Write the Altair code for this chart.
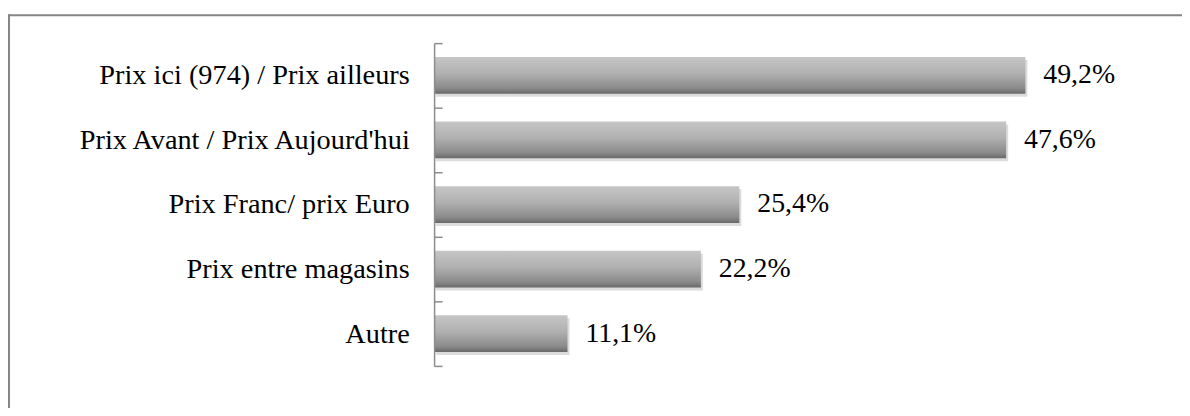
import altair as alt
import pandas as pd

categories = [
    "Prix ici (974) / Prix ailleurs\u00a0",
    "Prix Avant / Prix Aujourd'hui",
    "Prix Franc/ prix Euro",
    "Prix entre magasins",
    "Autre",
]
values = [49.2, 47.6, 25.4, 22.2, 11.1]
value_labels = ["49,2%", "47,6%", "25,4%", "22,2%", "11,1%"]

df = pd.DataFrame({"cat": categories, "val": values, "lab": value_labels})

W, H = 605, 325
PL = 429
FONT = "Liberation Serif"

xs = alt.Scale(domain=[0, 50])
ys = alt.Scale(domain=categories, paddingInner=0, paddingOuter=0)

base = alt.Chart(df)

# outer frame (only top and left visible in window)
frame_df = pd.DataFrame({"k": [0]})
frame_top = alt.Chart(frame_df).mark_rule(color="#858585", strokeWidth=2).encode(
    x=alt.value(-PL), x2=alt.value(900), y=alt.value(-28)
)
frame_left = alt.Chart(frame_df).mark_rule(color="#858585", strokeWidth=2).encode(
    x=alt.value(-PL + 1), y=alt.value(-29), y2=alt.value(420)
)

shadow = base.mark_bar(size=37, color="#808080", opacity=0.28, xOffset=2, yOffset=3).encode(
    x=alt.X("val:Q", scale=xs, axis=None),
    y=alt.Y(
        "cat:N",
        scale=ys,
        title=None,
        axis=alt.Axis(
            orient="right",
            offset=-W,
            labels=False,
            domain=True,
            domainColor="#8c8c8c",
            domainWidth=1.5,
            ticks=True,
            tickSize=8,
            tickColor="#8c8c8c",
            tickWidth=1.5,
            tickBand="extent",
            grid=False,
            zindex=1,
        ),
    ),
)

grad = alt.Gradient(
    gradient="linear",
    x1=0, y1=0, x2=0, y2=1,
    stops=[
        alt.GradientStop(offset=0, color="#c6c6c6"),
        alt.GradientStop(offset=0.45, color="#b0b0b0"),
        alt.GradientStop(offset=0.85, color="#8a8a8a"),
        alt.GradientStop(offset=1, color="#686868"),
    ],
)

bars = base.mark_bar(size=37, color=grad).encode(
    x=alt.X("val:Q", scale=xs, axis=None),
    y=alt.Y(
        "cat:N",
        scale=ys,
        title=None,
        axis=alt.Axis(
            orient="left",
            domain=False,
            ticks=False,
            tickSize=0,
            labelPadding=25,
            labelFont=FONT,
            labelFontSize=28.5,
            labelColor="#000000",
            labelLimit=0,
            grid=False,
        ),
    ),
)

text = base.mark_text(
    align="left", baseline="middle", dx=18, font=FONT, fontSize=28, color="#000000"
).encode(
    x=alt.X("val:Q", scale=xs, axis=None),
    y=alt.Y("cat:N", scale=ys, axis=None),
    text="lab:N",
)

chart = (
    alt.layer(frame_top, frame_left, shadow, bars, text)
    .resolve_axis(y="independent")
    .properties(
        width=W,
        height=H,
        autosize=alt.AutoSizeParams(type="none"),
        padding={"left": PL, "top": 34, "right": 1182 - PL - W, "bottom": 41},
        background="#ffffff",
    )
    .configure_view(strokeWidth=0)
)

chart.save("out.html", embed_options={"renderer": "svg", "actions": False})
